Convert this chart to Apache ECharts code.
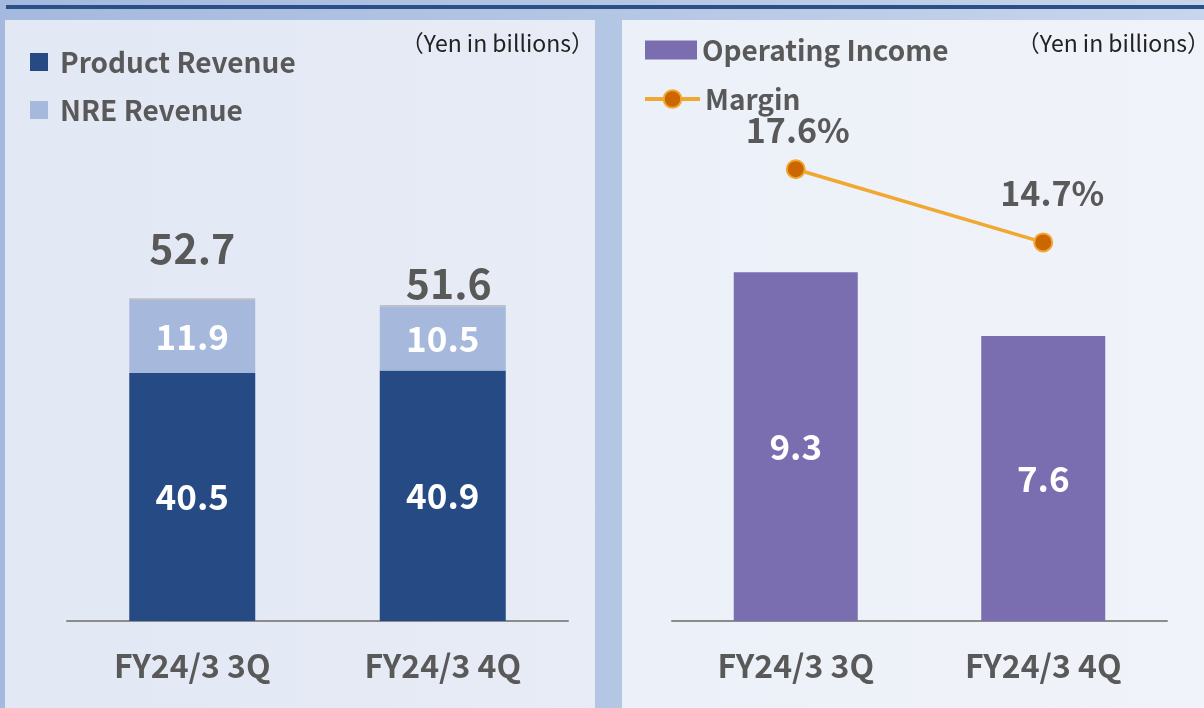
<!DOCTYPE html>
<html>
<head>
<meta charset="utf-8">
<script src="https://cdn.jsdelivr.net/npm/echarts@6/dist/echarts.min.js"></script>
<style>
  html, body { margin: 0; padding: 0; }
  body {
    width: 1204px; height: 708px; overflow: hidden; position: relative;
    background: linear-gradient(90deg, #a5b9de 0%, #b3c6e4 50%, #c7d6ec 100%);
  }
  #topline { position: absolute; left: 6px; top: 5px; width: 1198px; height: 4px; background: #2b4f87; }
  #panelL { position: absolute; left: 5px; top: 20px; width: 590px; height: 688px;
    background: linear-gradient(90deg, #e2e8f4 0%, #e7ecf6 100%); }
  #panelR { position: absolute; left: 622px; top: 20px; width: 582px; height: 688px;
    background: linear-gradient(90deg, #ecf0f8 0%, #f0f3f9 100%); }
  #main { position: absolute; left: 0; top: 0; width: 1204px; height: 708px; }
</style>
</head>
<body>
<div id="topline"></div>
<div id="panelL"></div>
<div id="panelR"></div>
<div id="main"></div>
<script>
// data
var categories = ["FY24/3 3Q", "FY24/3 4Q"];
var productRevenue = [40.5, 40.9];
var nreRevenue = [11.9, 10.5];
var otherRevenue = [0.3, 0.2];
var totalRevenue = [52.7, 51.6];
var operatingIncome = [9.3, 7.6];
var margin = [17.6, 14.7];

var FONT = "'Noto Sans CJK SC', 'Noto Sans', sans-serif";
var GREY = "#595959";
var legendText = { fontSize: 28, fontWeight: "bold", color: GREY, lineHeight: 30, fontFamily: FONT };
var axisText = { fontSize: 32, fontWeight: "bold", color: GREY, margin: 29, fontFamily: FONT };

var chart = echarts.init(document.getElementById("main"), null, { renderer: "canvas" });

var option = {
  animation: false,
  backgroundColor: "transparent",
  textStyle: { fontFamily: FONT },
  title: [
    { text: "（Yen in billions）", right: 605, top: 27,
      textStyle: { fontSize: 23, fontWeight: "normal", color: "#222", fontFamily: FONT } },
    { text: "（Yen in billions）", right: -11, top: 27,
      textStyle: { fontSize: 23, fontWeight: "normal", color: "#222", fontFamily: FONT } }
  ],
  legend: [
    {
      data: [{ name: "Product Revenue", icon: "rect" }, { name: "NRE Revenue", icon: "rect" }],
      orient: "vertical", left: 25, top: 42,
      itemWidth: 18, itemHeight: 18, itemGap: 18,
      selectedMode: false,
      textStyle: Object.assign({ padding: [0, 0, 0, 7] }, legendText)
    },
    {
      data: [{ name: "Operating Income", icon: "rect" }],
      orient: "vertical", left: 640, top: 30,
      itemWidth: 52, itemHeight: 19,
      selectedMode: false,
      textStyle: legendText
    },
    {
      data: [{ name: "Margin", lineStyle: { width: 4, color: "#f0a830" } }],
      orient: "vertical", left: 638, top: 79,
      itemWidth: 55, itemHeight: 22,
      selectedMode: false,
      textStyle: legendText
    }
  ],
  grid: [
    { left: 67, width: 501, top: 131, bottom: 87 },
    { left: 672, width: 495, top: 96, bottom: 87 }
  ],
  xAxis: [
    {
      type: "category", gridIndex: 0, data: categories,
      axisLine: { lineStyle: { color: "#8c8c8c", width: 2 } },
      axisTick: { show: false },
      axisLabel: axisText
    },
    {
      type: "category", gridIndex: 1, data: categories,
      axisLine: { lineStyle: { color: "#8c8c8c", width: 2 } },
      axisTick: { show: false },
      axisLabel: axisText
    }
  ],
  yAxis: [
    { type: "value", gridIndex: 0, min: 0, max: 80, show: false },
    { type: "value", gridIndex: 1, min: 0, max: 14, show: false },
    { type: "value", gridIndex: 1, min: -0.3, max: 20.5, show: false }
  ],
  series: [
    {
      name: "Product Revenue", type: "bar", stack: "rev", xAxisIndex: 0, yAxisIndex: 0,
      data: productRevenue, barWidth: 126,
      itemStyle: { color: "#264a84" },
      label: { show: true, position: "inside", color: "#fff", fontSize: 35, fontWeight: "bold", fontFamily: FONT }
    },
    {
      name: "NRE Revenue", type: "bar", stack: "rev", xAxisIndex: 0, yAxisIndex: 0,
      data: nreRevenue, barWidth: 126,
      itemStyle: { color: "#a6b9dc" },
      label: { show: true, position: "inside", color: "#fff", fontSize: 35, fontWeight: "bold", fontFamily: FONT }
    },
    {
      name: "Other", type: "bar", stack: "rev", xAxisIndex: 0, yAxisIndex: 0,
      barWidth: 126,
      itemStyle: { color: "#bfbfbf" },
      data: otherRevenue.map(function (v, i) {
        return {
          value: v,
          label: i === 0 ? { distance: 29, offset: [0, 0] } : { distance: 1, offset: [6, 0] }
        };
      }),
      label: {
        show: true, position: "top", color: GREY, fontSize: 41, fontWeight: "bold", fontFamily: FONT,
        formatter: function (p) { return totalRevenue[p.dataIndex].toFixed(1); }
      }
    },
    {
      name: "Operating Income", type: "bar", xAxisIndex: 1, yAxisIndex: 1,
      data: operatingIncome, barWidth: 124,
      itemStyle: { color: "#7a6db0" },
      label: { show: true, position: "inside", color: "#fff", fontSize: 35, fontWeight: "bold", fontFamily: FONT }
    },
    {
      name: "Margin", type: "line", xAxisIndex: 1, yAxisIndex: 2,
      data: margin.map(function (v, i) {
        return {
          value: v,
          label: i === 0 ? { distance: 12, offset: [2, 0] } : { distance: 22, offset: [9, 0] }
        };
      }),
      symbol: "circle", symbolSize: 18,
      lineStyle: { color: "#f0a830", width: 3.5 },
      itemStyle: { color: "#cc6600", borderColor: "#f0a830", borderWidth: 2 },
      label: {
        show: true, position: "top", color: GREY, fontSize: 34, fontWeight: "bold", fontFamily: FONT,
        formatter: function (p) { return p.value.toFixed(1) + "%"; }
      },
      z: 5
    }
  ]
};

chart.setOption(option);
</script>
</body>
</html>
